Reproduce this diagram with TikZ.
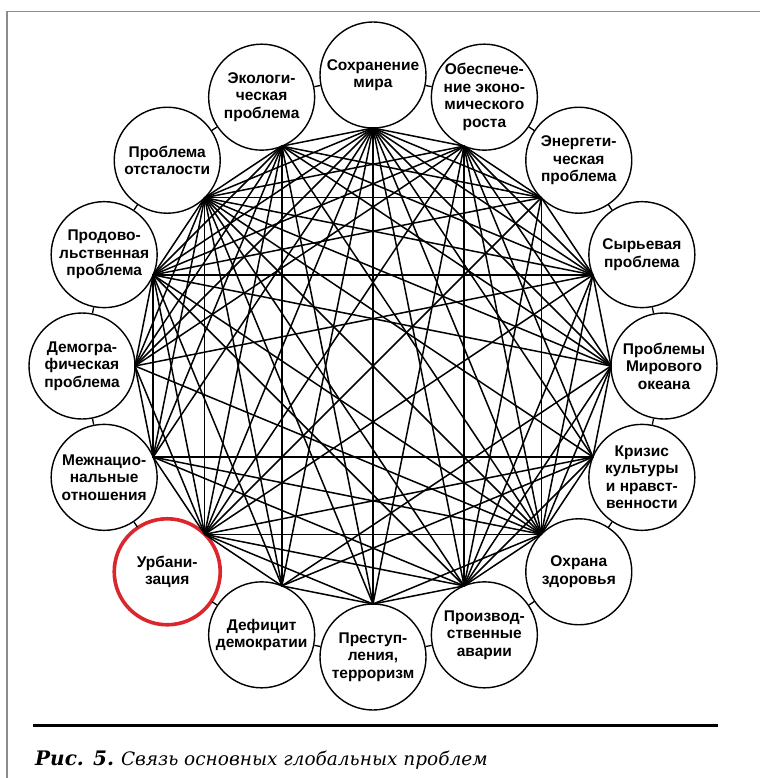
\documentclass[tikz,border=0pt]{standalone}
\usepackage{fontspec}
\newfontfamily\labfont{Liberation Sans}
\newfontfamily\capfont{DejaVu Serif}
\usetikzlibrary{calc}
\definecolor{urbred}{RGB}{218,38,44}
\definecolor{framegray}{RGB}{140,140,140}
\begin{document}
\begin{tikzpicture}[x=1pt,y=-1pt,
  circ/.style={circle,draw,line width=1.4pt,minimum size=106pt,inner sep=0pt},
  lab/.style={font=\labfont\bfseries\fontsize{15.5}{17.5}\selectfont,align=center,inner sep=0pt},
  chord/.style={line width=1.5pt,line cap=round},
  tick/.style={line width=1.3pt},
  rule/.style={line width=3pt}]
\useasboundingbox (0,0) rectangle (760,778);
\fill[white] (0,0) rectangle (760,778);
\draw[framegray,line width=1.2pt] (7,778) -- (7,11.5) -- (760,11.5);
\coordinate (ctr) at (373,366);
\foreach \i/\t in {
  0/{Сохранение\\мира},
  1/{Экологи-\\ческая\\проблема},
  2/{Проблема\\отсталости},
  3/{Продово-\\льственная\\проблема},
  4/{Демогра-\\фическая\\проблема},
  5/{Межнацио-\\нальные\\отношения},
  6/{Урбани-\\зация},
  7/{Дефицит\\демократии},
  8/{Преступ-\\ления,\\терроризм},
  9/{Производ-\\ственные\\аварии},
  10/{Охрана\\здоровья},
  11/{Кризис\\культуры\\и нравст-\\венности},
  12/{Проблемы\\Мирового\\океана},
  13/{Сырьевая\\проблема},
  14/{Энергети-\\ческая\\проблема},
  15/{Обеспече-\\ние эконо-\\мического\\роста}} {
  \pgfmathsetmacro\ang{90+22.5*\i}
  \node[circ] (c\i) at ({373+291*cos(\ang)},{366-291*sin(\ang)}) {};
  \node[lab] (t\i) at (c\i) {\t};
  \coordinate (v\i) at ($(c\i)!53pt!(ctr)$);
}
\node[circ,draw=urbred,line width=3.6pt] (u6) at (c6) {};
% short links between neighbouring circles
\foreach \i [evaluate=\i as \j using {int(mod(\i+1,16))}] in {0,...,15}
  \draw[tick] (c\i) -- (c\j);
% links between the problems
\foreach \a/\b in {
  0/1,0/2,0/3,0/4,0/5,0/6,0/7,0/8,0/9,0/10,0/11,0/12,0/13,0/14,0/15,
  1/2,1/3,1/4,1/5,1/6,1/7,1/8,1/10,1/12,1/13,1/14,
  2/3,2/4,2/5,2/6,2/7,2/8,2/9,2/10,2/11,2/12,2/13,2/14,2/15,
  3/4,3/5,3/6,3/7,3/9,3/10,3/12,3/13,3/14,3/15,
  4/5,4/6,4/10,4/13,4/15,
  5/6,5/9,5/10,5/11,
  6/7,6/8,6/9,6/10,6/11,6/13,6/14,6/15,
  7/8,7/11,7/12,
  8/9,8/10,8/15,
  9/10,9/11,9/12,9/13,9/14,9/15,
  10/11,10/12,10/13,10/14,10/15,
  11/12,11/15,
  12/13,12/15,
  13/14,13/15,
  14/15}
  \draw[chord] (v\a) -- (v\b);
% caption
\coordinate (r1) at (33,725);
\coordinate (r2) at (718,725);
\draw[rule] (r1) -- (r2);
\node[anchor=base west,inner sep=0pt] (cap) at (35,765)
  {\capfont\fontsize{20}{22}\selectfont\bfseries\itshape Рис. 5.\ \fontsize{18.5}{22}\selectfont\mdseries Связь основных глобальных проблем};
\end{tikzpicture}
\end{document}
